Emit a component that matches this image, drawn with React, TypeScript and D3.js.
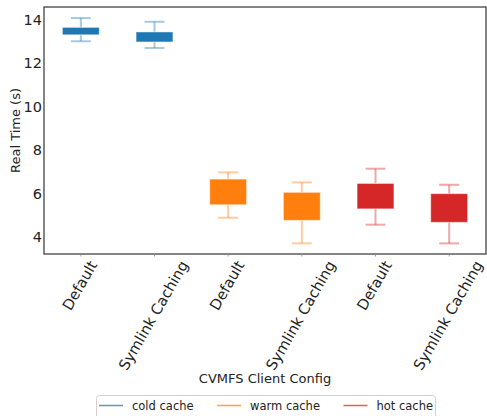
import { useEffect, useRef } from "react"
import * as d3 from "d3"

const configs = ["Default", "Symlink Caching", "Default", "Symlink Caching", "Default", "Symlink Caching"]
const cacheOfBox = ["cold cache", "cold cache", "warm cache", "warm cache", "hot cache", "hot cache"]
const legendNames = ["cold cache", "warm cache", "hot cache"]
const legendColors = ["#1f77b4", "#ff7f0e", "#d62728"]

const whiskerLow = [13.02, 12.71, 4.89, 3.71, 4.57, 3.71]
const q1 = [13.32, 12.99, 5.49, 4.77, 5.3, 4.68]
const q3 = [13.66, 13.45, 6.67, 6.06, 6.47, 6.0]
const whiskerHigh = [14.09, 13.92, 6.98, 6.52, 7.15, 6.41]

const yTicks = [4, 6, 8, 10, 12, 14]

export default function App() {
  const ref = useRef<SVGSVGElement>(null)

  useEffect(() => {
    if (!ref.current) return
    const el = ref.current
    d3.select(el).selectAll("*").remove()

    const W = 487
    const H = 416
    const left = 44
    const right = 486
    const top = 7
    const bottom = 254
    const font = "DejaVu Sans"

    const svg = d3.select(el).attr("width", W).attr("height", H)

    const color = d3.scaleOrdinal<string, string>().domain(legendNames).range(legendColors)

    const x = d3
      .scaleBand<number>()
      .domain(configs.map((_, i) => i))
      .range([left, right])

    const y = d3.scaleLinear().domain([3.22, 14.6]).range([bottom, top])

    const bw = x.bandwidth()

    // boxes
    configs.forEach((_, i) => {
      const c = color(cacheOfBox[i])
      const cx = x(i)! + bw / 2
      const g = svg.append("g")
      const capW = bw * 0.27
      // whiskers
      g.append("line")
        .attr("x1", cx).attr("x2", cx)
        .attr("y1", y(whiskerHigh[i])).attr("y2", y(q3[i]))
        .attr("stroke", c).attr("stroke-opacity", 0.4).attr("stroke-width", 2)
      g.append("line")
        .attr("x1", cx).attr("x2", cx)
        .attr("y1", y(q1[i])).attr("y2", y(whiskerLow[i]))
        .attr("stroke", c).attr("stroke-opacity", 0.4).attr("stroke-width", 2)
      ;[whiskerHigh[i], whiskerLow[i]].forEach((v) => {
        g.append("line")
          .attr("x1", cx - capW / 2).attr("x2", cx + capW / 2)
          .attr("y1", y(v)).attr("y2", y(v))
          .attr("stroke", c).attr("stroke-opacity", 0.4).attr("stroke-width", 2)
      })
      g.append("rect")
        .attr("x", cx - bw / 4)
        .attr("width", bw / 2)
        .attr("y", y(q3[i]))
        .attr("height", y(q1[i]) - y(q3[i]))
        .attr("fill", c)
      g.append("rect")
        .attr("x", cx - bw / 4)
        .attr("width", bw / 2)
        .attr("y", y(q3[i]))
        .attr("height", y(q1[i]) - y(q3[i]))
        .attr("fill", "none")
        .attr("stroke", "#fff")
        .attr("stroke-opacity", 0.45)
        .attr("stroke-width", 1)
    })

    // frame
    svg.append("rect")
      .attr("x", left).attr("y", top)
      .attr("width", right - left).attr("height", bottom - top)
      .attr("fill", "none").attr("stroke", "#333").attr("stroke-width", 1.2)

    // y tick labels
    svg.append("g")
      .selectAll("text")
      .data(yTicks)
      .join("text")
      .attr("x", 42)
      .attr("y", (d) => y(d))
      .attr("text-anchor", "end")
      .attr("dominant-baseline", "central")
      .attr("font-family", font)
      .attr("font-size", 14.5)
      .attr("fill", "#222")
      .text((d) => d)

    // x ticks
    configs.forEach((_, i) => {
      const cx = x(i)! + bw / 2
      svg.append("line")
        .attr("x1", cx).attr("x2", cx)
        .attr("y1", bottom).attr("y2", bottom + 2.5)
        .attr("stroke", "#888").attr("stroke-width", 0.8)
    })

    // x tick labels rotated 60deg, bbox centered at tick
    const fs = 14.8
    const asc = fs * 0.76
    const desc = fs * 0.24
    configs.forEach((label, i) => {
      const cx = x(i)! + bw / 2
      const t = svg.append("text")
        .attr("font-family", font)
        .attr("font-size", fs)
        .attr("fill", "#222")
        .attr("text-anchor", "end")
        .text(label)
      const w = (t.node() as SVGTextElement).getComputedTextLength()
      const ax = cx + 0.25 * w + 0.433 * (asc - desc)
      const ay = 259 + 0.5 * asc
      t.attr("transform", `translate(${ax},${ay}) rotate(-60)`)
    })

    // axis labels
    svg.append("text")
      .attr("transform", `translate(15,${(top + bottom) / 2}) rotate(-90)`)
      .attr("text-anchor", "middle")
      .attr("dominant-baseline", "central")
      .attr("font-family", font)
      .attr("font-size", 13)
      .attr("fill", "#222")
      .text("Real Time (s)")

    svg.append("text")
      .attr("x", (left + right) / 2)
      .attr("y", 378)
      .attr("text-anchor", "middle")
      .attr("dominant-baseline", "central")
      .attr("font-family", font)
      .attr("font-size", 13)
      .attr("fill", "#222")
      .text("CVMFS Client Config")

    // legend
    const lg = svg.append("g")
    lg.append("rect")
      .attr("x", 96.5).attr("y", 395.5)
      .attr("width", 339).attr("height", 26)
      .attr("rx", 3)
      .attr("fill", "#fff").attr("stroke", "#d0d0d0")
    let lx = 99
    legendNames.forEach((name) => {
      lg.append("line")
        .attr("x1", lx).attr("x2", lx + 24)
        .attr("y1", 405.5).attr("y2", 405.5)
        .attr("stroke", color(name)).attr("stroke-opacity", 0.75).attr("stroke-width", 1.5)
      const t = lg.append("text")
        .attr("x", lx + 33)
        .attr("y", 405.5)
        .attr("dominant-baseline", "central")
        .attr("font-family", font)
        .attr("font-size", 11.5)
        .attr("fill", "#222")
        .text(name)
      const w = (t.node() as SVGTextElement).getComputedTextLength()
      lx = lx + 33 + w + 23.5
    })
  }, [])

  return (
    <svg
      ref={ref}
      style={{ position: "absolute", left: 0, top: 0, background: "#fff" }}
    />
  )
}
